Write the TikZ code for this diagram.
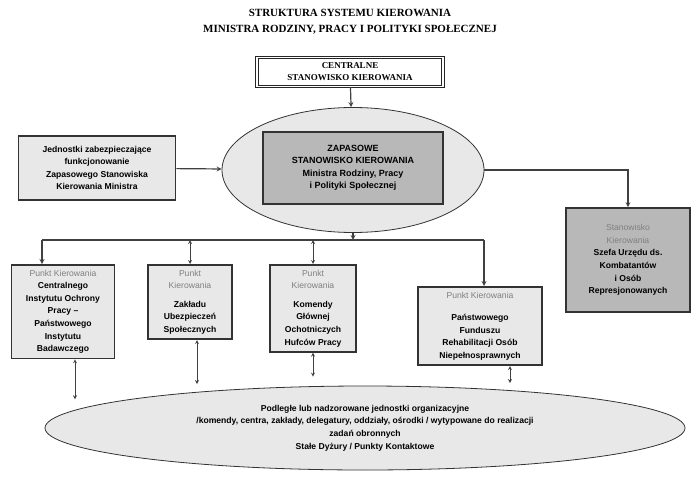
\documentclass[tikz,border=0pt]{standalone}
\usepackage{fontspec}
\setmainfont{Liberation Serif}
\setsansfont{Liberation Sans}
\usetikzlibrary{shapes.geometric, arrows}
\definecolor{boxgray}{gray}{0.72}
\definecolor{lightgray}{gray}{0.91}
\definecolor{labgray}{gray}{0.5}
\tikzstyle{unit} = [rectangle, draw=black!80, line width=1.6pt, fill=lightgray, align=center, inner xsep=2pt, inner ysep=5pt, font=\sffamily\bfseries\fontsize{8.6}{12.6}\selectfont]
\tikzstyle{darkunit} = [unit, fill=boxgray]
\tikzstyle{oval} = [ellipse, draw=black!80, line width=0.8pt, fill=lightgray]
\tikzstyle{arrow} = [line width=1.2pt, draw=black!75, ->, >=stealth]
\tikzstyle{link} = [line width=0.8pt, draw=black!75, <->, >=stealth]
\newcommand{\pk}[1]{{\mdseries\color{labgray}#1}}

\begin{document}
\begin{tikzpicture}[x=1pt, y=-1pt]
    \useasboundingbox (0,0) rectangle (700,476);
    \node (title) [font=\rmfamily\bfseries\fontsize{11}{16}\selectfont, align=center] at (350,22) {STRUKTURA SYSTEMU KIEROWANIA\\MINISTRA RODZINY, PRACY I POLITYKI SPOŁECZNEJ};
    \node (central) [draw=black!85, double, double distance=1.2pt, line width=1.2pt, fill=white, minimum width=186pt, minimum height=29pt, align=center, font=\rmfamily\bfseries\fontsize{9}{12}\selectfont] at (350,72) {CENTRALNE\\STANOWISKO KIEROWANIA};
    \node (ovalmain) [oval, minimum width=262pt, minimum height=125pt] at (353,170) {};
    \node (reserve) [darkunit, minimum width=180pt, minimum height=72pt, font=\sffamily\bfseries\fontsize{9}{12.5}\selectfont] at (353,168) {ZAPASOWE\\STANOWISKO KIEROWANIA\\Ministra Rodziny, Pracy\\i Polityki Społecznej};
    \node (support) [unit, minimum width=157pt, minimum height=64pt] at (97,168) {Jednostki zabezpieczające\\funkcjonowanie\\Zapasowego Stanowiska\\Kierowania Ministra};
    \node (veterans) [darkunit, minimum width=124pt, minimum height=104pt] at (628,260) {\pk{Stanowisko}\\\pk{Kierowania}\\Szefa Urzędu ds.\\Kombatantów\\i Osób\\Represjonowanych};
    \node (ciop) [unit, minimum width=103pt, anchor=north] at (63,264) {\pk{Punkt Kierowania}\\Centralnego\\Instytutu Ochrony\\Pracy --\\Państwowego\\Instytutu\\Badawczego};
    \node (zus) [unit, minimum width=84pt, anchor=north] at (190,264) {\pk{Punkt}\\\pk{Kierowania}\\[6pt]Zakładu\\Ubezpieczeń\\Społecznych};
    \node (ohp) [unit, minimum width=86pt, anchor=north] at (313,264) {\pk{Punkt}\\\pk{Kierowania}\\[6pt]Komendy\\Głównej\\Ochotniczych\\Hufców Pracy};
    \node (pfron) [unit, minimum width=124pt, anchor=north] at (480,286) {\pk{Punkt Kierowania}\\[10pt]Państwowego\\Funduszu\\Rehabilitacji Osób\\Niepełnosprawnych};
    \node (units) [oval, minimum width=640pt, minimum height=84pt, align=center, font=\sffamily\bfseries\fontsize{8.6}{12.6}\selectfont] at (365,428) {Podległe lub nadzorowane jednostki organizacyjne\\/komendy, centra, zakłady, delegatury, oddziały, ośrodki / wytypowane do realizacji\\zadań obronnych\\Stałe Dyżury / Punkty Kontaktowe};
    \coordinate (bus) at (353,240);
    \coordinate (busleft) at (42,240);
    \coordinate (busright) at (484,240);
    \draw [arrow] (central) -- (ovalmain);
    \draw [arrow] (support) -- (ovalmain);
    \draw [arrow] (ovalmain.east) -| (veterans.north);
    \draw [arrow] (ovalmain.south) -- (bus);
    \draw [line width=1.2pt, draw=black!75] (busleft) -- (busright);
    \draw [arrow] (busleft) -- (busleft |- ciop.north);
    \draw [link] (zus.north |- bus) -- (zus.north);
    \draw [link] (ohp.north |- bus) -- (ohp.north);
    \draw [arrow] (busright) -- (busright |- pfron.north);
    \draw [link] ([xshift=12pt]ciop.south) -- ++(0,40);
    \draw [link] ([xshift=7pt]zus.south) -- ++(0,44);
    \draw [link] (ohp.south) -- ++(0,24);
    \draw [link] ([xshift=30pt]pfron.south) -- ++(0,17);
\end{tikzpicture}
\end{document}
